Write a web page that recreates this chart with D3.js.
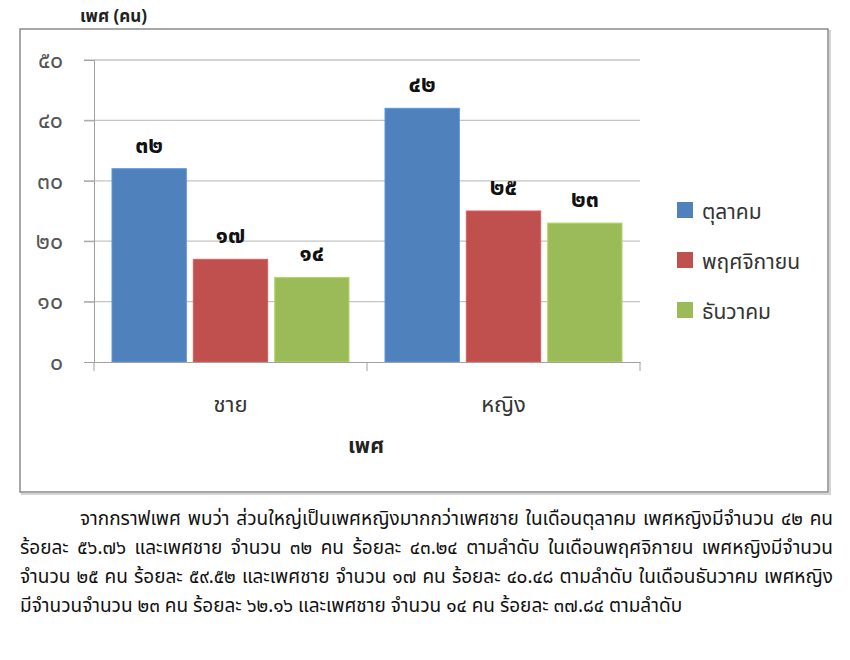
<!DOCTYPE html>
<meta charset="utf-8">
<style>
    body {
        margin: 0;
        padding: 0;
        background: #fff;
    }
    svg text {
        font-family: "Noto Sans Thai", Tahoma, "Noto Sans", sans-serif;
    }
    .para {
        position: absolute;
        left: 20px;
        width: 813px;
        height: 29px;
        line-height: 29px;
        font-family: "Noto Sans Thai", Tahoma, "Noto Sans", sans-serif;
        font-size: 19px;
        color: #111;
        white-space: nowrap;
    }
    .para.just {
        text-align: justify;
        text-align-last: justify;
        white-space: normal;
    }
</style>
<body>
<script src="https://d3js.org/d3.v7.min.js"></script>
<script>
    // data
    var groups = ["ชาย", "หญิง"];
    var months = ["ตุลาคม", "พฤศจิกายน", "ธันวาคม"];
    var oct = [32, 42];
    var nov = [17, 25];
    var dec = [14, 23];
    var yTicks = [0, 10, 20, 30, 40, 50];
    var colors = ["#4F81BD", "#C0504D", "#9BBB59"];
    var paragraph = [
        "จากกราฟเพศ พบว่า ส่วนใหญ่เป็นเพศหญิงมากกว่าเพศชาย ในเดือนตุลาคม เพศหญิงมีจำนวน ๔๒ คน",
        "ร้อยละ ๕๖.๗๖ และเพศชาย จำนวน ๓๒ คน ร้อยละ ๔๓.๒๔ ตามลำดับ  ในเดือนพฤศจิกายน เพศหญิงมีจำนวน",
        "จำนวน ๒๕ คน ร้อยละ ๕๙.๕๒ และเพศชาย จำนวน ๑๗ คน ร้อยละ ๔๐.๔๘ ตามลำดับ  ในเดือนธันวาคม เพศหญิง",
        "มีจำนวนจำนวน ๒๓ คน ร้อยละ ๖๒.๑๖ และเพศชาย จำนวน ๑๔ คน ร้อยละ ๓๗.๘๔ ตามลำดับ"
    ];

    var series = [oct, nov, dec];

    // arabic -> thai digits
    var thaiDigits = "๐๑๒๓๔๕๖๗๘๙";
    function thai(n) {
        return String(n).replace(/[0-9]/g, function(c) { return thaiDigits[+c]; });
    }

    var width = 850,
        height = 660;

    var svg = d3.select("body")
        .append("svg")
        .attr("width", width)
        .attr("height", height)
        .style("position", "absolute")
        .style("left", 0)
        .style("top", 0);

    // chart frame
    svg.append("rect")
        .attr("x", 22).attr("y", 31)
        .attr("width", 808).attr("height", 463)
        .attr("fill", "none")
        .attr("stroke", "#d4d4d4")
        .attr("stroke-width", 2);
    svg.append("rect")
        .attr("x", 20).attr("y", 29)
        .attr("width", 808).attr("height", 463)
        .attr("fill", "#fff")
        .attr("stroke", "#8a8a8a")
        .attr("stroke-width", 1.5);

    svg.append("text")
        .attr("x", 80).attr("y", 22)
        .attr("font-size", 17)
        .attr("font-weight", "bold")
        .attr("fill", "#222")
        .text("เพศ (คน)");

    var x0 = d3.scaleBand()
        .domain(groups)
        .range([94, 640]);

    var x1 = d3.scaleBand()
        .domain(d3.range(months.length))
        .range([18, x0.bandwidth() - 18])
        .paddingInner(0.086);

    var y = d3.scaleLinear()
        .domain([0, 50])
        .range([362, 60]);

    // gridlines
    svg.append("g")
        .selectAll("line")
        .data(yTicks.slice(1))
        .enter().append("line")
        .attr("x1", 84).attr("x2", 640)
        .attr("y1", function(d) { return y(d); })
        .attr("y2", function(d) { return y(d); })
        .attr("stroke", "#c4c4c4")
        .attr("stroke-width", 1.3);

    // y axis
    var yAxis = svg.append("g")
        .attr("transform", "translate(94,0)")
        .call(d3.axisLeft(y).tickValues(yTicks).tickSize(10).tickPadding(21).tickFormat(thai));
    yAxis.select(".domain").attr("stroke", "#a0a0a0");
    yAxis.selectAll(".tick line").attr("stroke", "#a0a0a0");
    yAxis.selectAll("text")
        .attr("font-size", 23)
        .attr("fill", "#555");

    // bars
    var grp = svg.append("g")
        .selectAll("g")
        .data(groups)
        .enter().append("g")
        .attr("transform", function(d) { return "translate(" + x0(d) + ",0)"; });

    grp.selectAll("rect")
        .data(function(d, gi) { return series.map(function(s, si) { return {si: si, v: s[gi]}; }); })
        .enter().append("rect")
        .attr("x", function(d) { return x1(d.si); })
        .attr("width", x1.bandwidth())
        .attr("y", function(d) { return y(d.v); })
        .attr("height", function(d) { return y(0) - y(d.v); })
        .attr("fill", function(d) { return colors[d.si]; })
        .attr("stroke", function(d) { return d3.color(colors[d.si]).brighter(0.4); })
        .attr("stroke-width", 1);

    grp.selectAll("text")
        .data(function(d, gi) { return series.map(function(s, si) { return {si: si, v: s[gi]}; }); })
        .enter().append("text")
        .attr("x", function(d) { return x1(d.si) + x1.bandwidth() / 2; })
        .attr("y", function(d) { return y(d.v) - 16; })
        .attr("text-anchor", "middle")
        .attr("font-size", 23)
        .attr("font-weight", "bold")
        .attr("fill", "#111")
        .text(function(d) { return thai(d.v); });

    // x axis
    var xAxis = svg.append("g")
        .attr("transform", "translate(0,362)")
        .call(d3.axisBottom(x0).tickSize(0).tickPadding(34));
    xAxis.select(".domain").attr("stroke", "#a0a0a0");
    xAxis.selectAll("text")
        .attr("font-size", 22)
        .attr("fill", "#333");
    // category separators
    svg.append("g")
        .selectAll("line")
        .data(d3.range(groups.length + 1))
        .enter().append("line")
        .attr("x1", function(i) { return 94 + i * x0.step(); })
        .attr("x2", function(i) { return 94 + i * x0.step(); })
        .attr("y1", 362).attr("y2", 371)
        .attr("stroke", "#a0a0a0");

    svg.append("text")
        .attr("x", 366).attr("y", 453)
        .attr("text-anchor", "middle")
        .attr("font-size", 21)
        .attr("font-weight", "bold")
        .attr("fill", "#222")
        .text("เพศ");

    // legend
    var legend = svg.append("g")
        .selectAll("g")
        .data(months)
        .enter().append("g")
        .attr("transform", function(d, i) { return "translate(677," + (202 + i * 50) + ")"; });
    legend.append("rect")
        .attr("width", 16).attr("height", 16)
        .attr("fill", function(d, i) { return colors[i]; });
    legend.append("text")
        .attr("x", 25).attr("y", 17)
        .attr("font-size", 21)
        .attr("fill", "#333")
        .text(function(d) { return d; });

    // paragraph below
    d3.select("body").selectAll("div.para")
        .data(paragraph)
        .enter().append("div")
        .attr("class", function(d, i) { return i < paragraph.length - 1 ? "para just" : "para"; })
        .style("top", function(d, i) { return (505 + i * 29) + "px"; })
        .style("padding-left", function(d, i) { return i === 0 ? "60px" : "0px"; })
        .style("width", function(d, i) { return i === 0 ? "753px" : "813px"; })
        .text(function(d) { return d; });
</script>
</body>
</html>
